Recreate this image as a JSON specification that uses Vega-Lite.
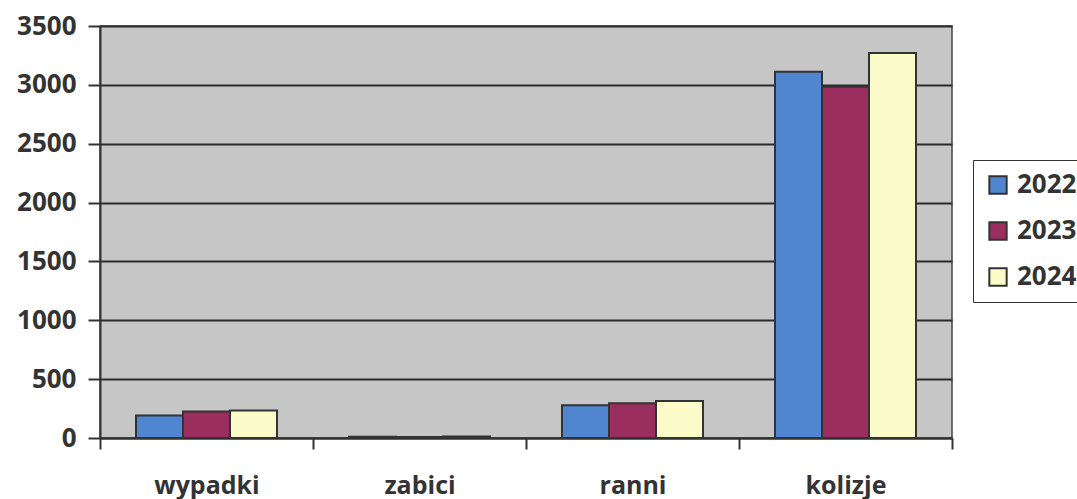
{
  "$schema": "https://vega.github.io/schema/vega-lite/v6.json",
  "width": 852,
  "height": 412,
  "autosize": {"type": "none"},
  "padding": {"left": 100, "top": 26, "right": 125, "bottom": 61},
  "background": "#ffffff",
  "data": {
    "values": [
      {"kategoria": "wypadki", "rok": "2022", "wartosc": 192},
      {"kategoria": "wypadki", "rok": "2023", "wartosc": 226},
      {"kategoria": "wypadki", "rok": "2024", "wartosc": 234},
      {"kategoria": "zabici", "rok": "2022", "wartosc": 10},
      {"kategoria": "zabici", "rok": "2023", "wartosc": 8},
      {"kategoria": "zabici", "rok": "2024", "wartosc": 12},
      {"kategoria": "ranni", "rok": "2022", "wartosc": 278},
      {"kategoria": "ranni", "rok": "2023", "wartosc": 295},
      {"kategoria": "ranni", "rok": "2024", "wartosc": 315},
      {"kategoria": "kolizje", "rok": "2022", "wartosc": 3111},
      {"kategoria": "kolizje", "rok": "2023", "wartosc": 2984},
      {"kategoria": "kolizje", "rok": "2024", "wartosc": 3271}
    ]
  },
  "config": {
    "font": "Open Sans",
    "view": {"fill": "#c6c6c6", "stroke": "#444444", "strokeWidth": 1.5},
    "legend": {"strokeColor": "#333333"}
  },
  "mark": {"type": "bar", "stroke": "#333333", "strokeWidth": 2},
  "encoding": {
    "x": {
      "field": "kategoria",
      "type": "nominal",
      "sort": ["wypadki", "zabici", "ranni", "kolizje"],
      "scale": {"paddingInner": 0, "paddingOuter": 0},
      "axis": {
        "title": null,
        "labelAngle": 0,
        "labelFont": "Open Sans",
        "labelFontSize": 25,
        "labelFontWeight": "bold",
        "labelColor": "#333333",
        "labelPadding": 24,
        "tickBand": "extent",
        "tickSize": 11,
        "tickWidth": 2,
        "tickColor": "#333333",
        "domainColor": "#333333",
        "domainWidth": 2
      }
    },
    "xOffset": {
      "field": "rok",
      "type": "nominal",
      "scale": {"paddingInner": 0, "paddingOuter": 0.766}
    },
    "y": {
      "field": "wartosc",
      "type": "quantitative",
      "scale": {"domain": [0, 3500], "nice": false},
      "axis": {
        "title": null,
        "values": [0, 500, 1000, 1500, 2000, 2500, 3000, 3500],
        "format": "d",
        "labelFont": "Open Sans",
        "labelFontSize": 26,
        "labelFontWeight": "bold",
        "labelColor": "#333333",
        "labelPadding": 12,
        "tickSize": 12,
        "tickWidth": 2,
        "tickColor": "#333333",
        "domainColor": "#333333",
        "domainWidth": 2,
        "grid": true,
        "gridColor": "#2a2a2a",
        "gridWidth": 2
      }
    },
    "color": {
      "field": "rok",
      "type": "nominal",
      "scale": {"domain": ["2022", "2023", "2024"], "range": ["#4f86cf", "#9a2f5f", "#fbfbc9"]},
      "legend": {
        "title": null,
        "orient": "none",
        "legendX": 873,
        "legendY": 134,
        "symbolType": "square",
        "symbolSize": 300,
        "symbolStrokeColor": "#333333",
        "symbolStrokeWidth": 2,
        "symbolOpacity": 1,
        "labelFont": "Open Sans",
        "labelFontSize": 26,
        "labelFontWeight": "bold",
        "labelColor": "#333333",
        "rowPadding": 20,
        "labelOffset": 6,
        "padding": 12
      }
    }
  }
}
